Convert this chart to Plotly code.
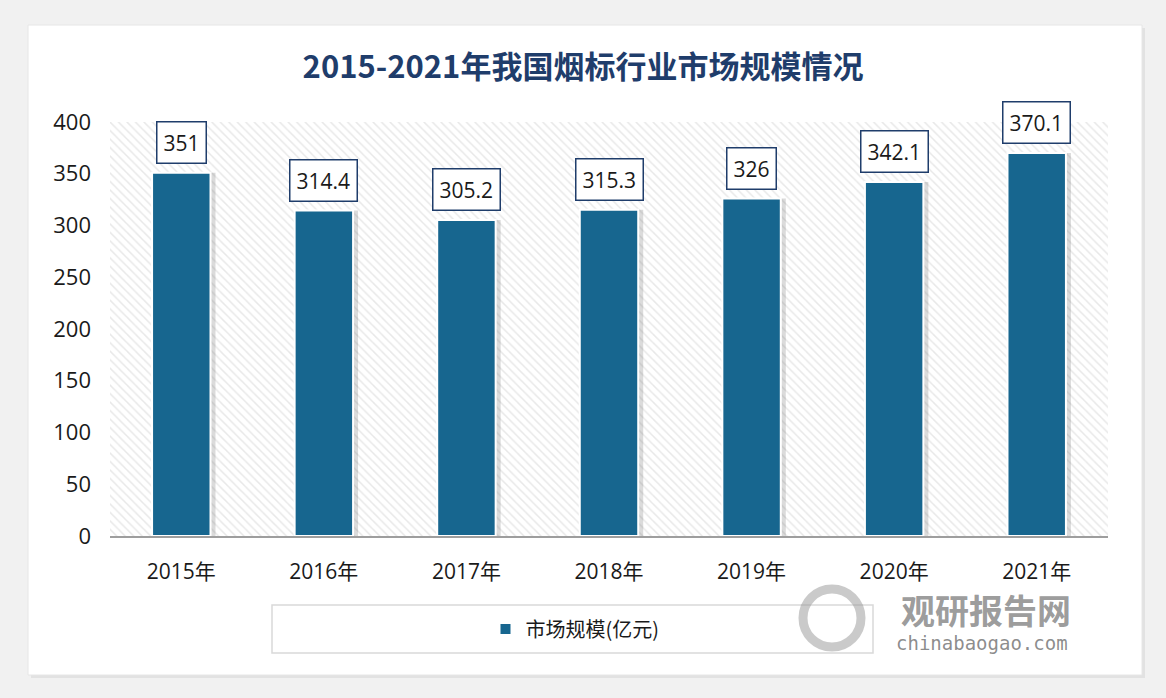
import plotly.graph_objects as go

# 数据
years = ['2015年', '2016年', '2017年', '2018年', '2019年', '2020年', '2021年']
market_size = [351, 314.4, 305.2, 315.3, 326, 342.1, 370.1]
y_ticks = [0, 50, 100, 150, 200, 250, 300, 350, 400]
series_name = '市场规模(亿元)'
title_text = '2015-2021年我国烟标行业市场规模情况'

BAR_COLOR = '#17668f'
NAVY = '#1f3d6b'
FONT = 'Open Sans, Noto Sans CJK SC, sans-serif'
CJK = 'Noto Sans CJK SC, sans-serif'

# Plotbereich in Pixeln (für Paper-Koordinaten)
L, R, T, B = 110, 58, 122, 162
W, H = 1166, 698
PW, PH = W - L - R, H - T - B


def px(x):
    return (x - L) / PW


def py(y):
    return (H - B - y) / PH


xs = list(range(len(years)))
bar_w = 0.41

fig = go.Figure()

# Schraffierter Hintergrund
fig.add_trace(go.Bar(
    x=[(xs[0] + xs[-1]) / 2], y=[y_ticks[-1]], width=[len(xs)],
    marker=dict(color='white', line=dict(width=0),
                pattern=dict(shape='\\', fgcolor='#d2d2d2', bgcolor='white',
                             size=6, solidity=0.25)),
    hoverinfo='skip', showlegend=False
))

# Schatten
fig.add_trace(go.Bar(
    x=xs, y=market_size, width=bar_w, offset=-bar_w / 2 + 0.035,
    marker=dict(color='rgba(90,90,90,0.22)', line=dict(width=0)),
    hoverinfo='skip', showlegend=False
))

# Balken
fig.add_trace(go.Bar(
    x=xs, y=market_size, width=bar_w, name=series_name,
    marker=dict(color=BAR_COLOR, line=dict(color='white', width=2))
))

# Datenbeschriftungen
for x, v in zip(xs, market_size):
    fig.add_annotation(
        x=x, y=v, text=f'{v:g}', showarrow=False,
        yanchor='bottom', yshift=9,
        font=dict(family=FONT, size=21, color='#1a1a1a'),
        bgcolor='white', bordercolor=NAVY, borderwidth=1.5, borderpad=6
    )

# Karte + Legendenrahmen
fig.add_shape(type='rect', xref='paper', yref='paper', layer='below',
              x0=px(31), x1=px(1145), y0=py(678), y1=py(28),
              fillcolor='#e2e2e2', line=dict(width=0))
fig.add_shape(type='rect', xref='paper', yref='paper', layer='below',
              x0=px(28), x1=px(1142), y0=py(675), y1=py(25),
              fillcolor='white', line=dict(color='#e6e6e6', width=1))
fig.add_shape(type='rect', xref='paper', yref='paper', layer='below',
              x0=px(272), x1=px(873), y0=py(653), y1=py(605),
              fillcolor='white', line=dict(color='#d9d9d9', width=1.5))

# Wasserzeichen
fig.add_shape(type='circle', xref='paper', yref='paper',
              x0=px(803), x1=px(861), y0=py(647), y1=py(589),
              line=dict(color='rgba(150,150,150,0.5)', width=9))
fig.add_annotation(x=px(986), y=py(609), xref='paper', yref='paper',
                   xanchor='center', yanchor='middle',
                   text='<b>观研报告网</b>', showarrow=False,
                   font=dict(family=CJK, size=34, color='rgba(130,130,130,0.8)'))
fig.add_annotation(x=px(982), y=py(643), xref='paper', yref='paper',
                   xanchor='center', yanchor='middle',
                   text='chinabaogao.com', showarrow=False,
                   font=dict(family='DejaVu Sans Mono, monospace', size=19,
                             color='rgba(120,120,120,0.85)'))

fig.update_layout(
    width=W, height=H,
    margin=dict(l=L, r=R, t=T, b=B),
    paper_bgcolor='#f1f1f1',
    plot_bgcolor='rgba(0,0,0,0)',
    barmode='overlay',
    title=dict(text=f'<b>{title_text}</b>', x=0.5, xanchor='center',
               y=1 - 67 / H, yanchor='middle',
               font=dict(family=CJK, size=31, color=NAVY)),
    showlegend=True,
    legend=dict(orientation='h', x=px(575), xanchor='center',
                y=py(629), yanchor='middle', bgcolor='rgba(0,0,0,0)',
                font=dict(family=CJK, size=20, color='#1a1a1a')),
    font=dict(family=FONT)
)

fig.update_xaxes(
    range=[-0.5, len(xs) - 0.5],
    tickvals=xs, ticktext=years,
    showgrid=False, zeroline=False,
    showline=True, linecolor='#9e9e9e', linewidth=1.5,
    ticks='', ticklabelstandoff=16,
    tickfont=dict(family=FONT, size=21, color='#1a1a1a')
)
fig.update_yaxes(
    range=[0, y_ticks[-1]], tickvals=y_ticks,
    showgrid=False, zeroline=False, showline=False,
    ticks='', ticklabelstandoff=18,
    tickfont=dict(family=FONT, size=22, color='#1a1a1a')
)

fig.write_html('out.html', config={'displayModeBar': False},
               post_script="document.body.style.margin='0';")
